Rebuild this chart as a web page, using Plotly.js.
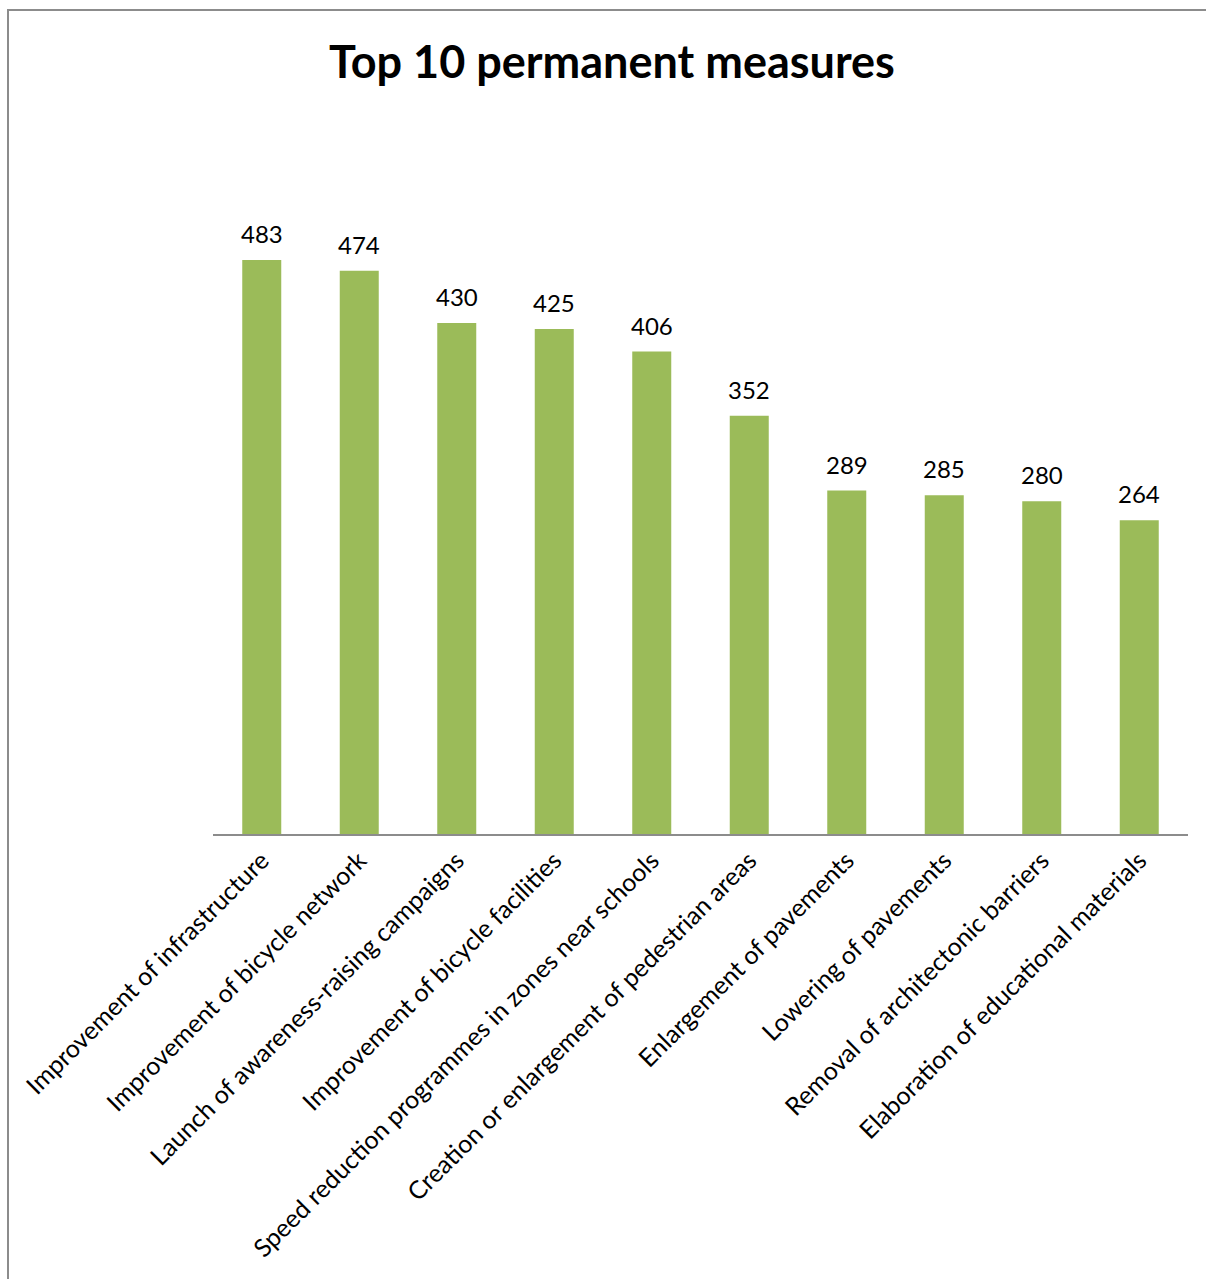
<!DOCTYPE html>
<html>
<head>
<meta charset="utf-8">
<script src="https://cdn.plot.ly/plotly-3.0.1.min.js"></script>
<style>
html,body{margin:0;padding:0;background:#fff;}
#wrap{position:relative;width:1206px;height:1279px;}
#chart{position:absolute;left:0;top:0;width:1206px;height:1279px;}
#frame{position:absolute;left:7px;top:9px;right:0;bottom:0;border-left:2px solid #8c8c8c;border-top:2px solid #8c8c8c;pointer-events:none;}
</style>
</head>
<body>
<div id="wrap"><div id="chart"></div><div id="frame"></div></div>
<script>
const categories = [
  "Improvement of infrastructure",
  "Improvement of bicycle network",
  "Launch of awareness-raising campaigns",
  "Improvement of bicycle facilities",
  "Speed reduction programmes in zones near schools",
  "Creation or enlargement of pedestrian areas",
  "Enlargement of pavements",
  "Lowering of pavements",
  "Removal of architectonic barriers",
  "Elaboration of educational materials"
];
const values = [483, 474, 430, 425, 406, 352, 289, 285, 280, 264];
const chartTitle = "Top 10 permanent measures";

const trace = {
  type: 'bar',
  x: categories,
  y: values,
  marker: {color: '#9BBB59'},
  width: 0.4,
  hoverinfo: 'x+y'
};

const valueLabels = categories.map((c, i) => ({
  x: c,
  y: values[i],
  xref: 'x',
  yref: 'y',
  text: String(values[i]),
  showarrow: false,
  yanchor: 'bottom',
  yshift: 10,
  font: {family: 'Lato, sans-serif', size: 24, color: '#000'}
}));

const layout = {
  width: 1206,
  height: 1279,
  margin: {l: 213, r: 18, t: 121, b: 445},
  paper_bgcolor: '#fff',
  plot_bgcolor: '#fff',
  font: {family: 'Lato, sans-serif', size: 25, color: '#000'},
  title: {
    text: chartTitle,
    font: {family: 'Lato, sans-serif', size: 45, color: '#000', weight: 'bold'},
    x: 612/1206, xanchor: 'center', xref: 'container',
    y: 1 - 62/1279, yanchor: 'middle', yref: 'container'
  },
  xaxis: {
    type: 'category',
    showline: true,
    linecolor: '#8c8c8c',
    linewidth: 2,
    ticks: '',
    tickangle: -45,
    tickfont: {family: 'Lato, sans-serif', size: 25, color: '#000'},
    showgrid: false,
    zeroline: false
  },
  yaxis: {
    range: [0, 600],
    visible: false,
    showgrid: false,
    zeroline: false
  },
  annotations: valueLabels,
  showlegend: false,
  bargap: 0.6
};

Plotly.newPlot('chart', [trace], layout, {displayModeBar: false, staticPlot: true});
</script>
</body>
</html>
